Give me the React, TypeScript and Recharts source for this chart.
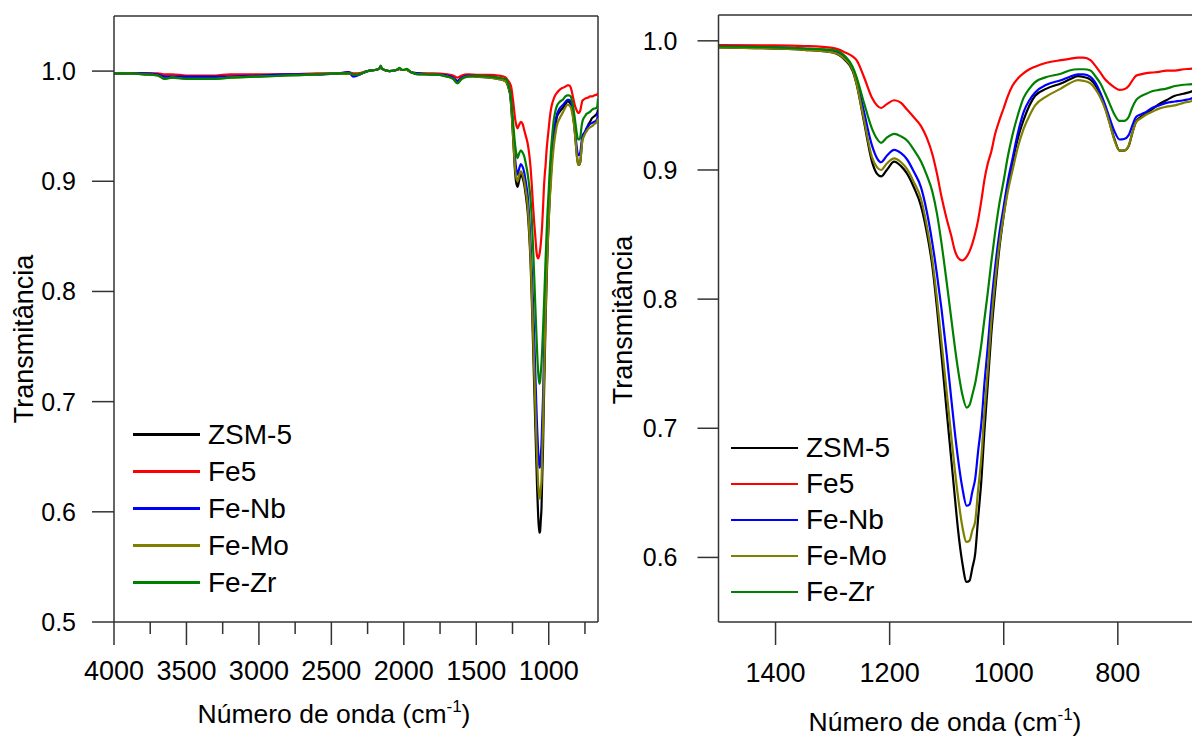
import React from 'react'
import { LineChart, Line, XAxis, YAxis, ReferenceLine, Legend } from 'recharts'

const FONT = '"Liberation Sans", Arial, sans-serif'
const AXIS = '#333'

// wavenumber grid (cm-1)
const wavenumbers = [
  4000, 3900, 3800, 3700, 3650, 3600, 3500, 3400, 3300, 3200,
  3000, 2800, 2600, 2450, 2380, 2350, 2320, 2250, 2200, 2170,
  2160, 2150, 2100, 2050, 2030, 2010, 1980, 1950, 1900, 1800,
  1700, 1660, 1630, 1600, 1560, 1500,
  1400, 1350, 1300, 1278, 1265, 1258, 1245, 1231, 1222, 1215,
  1205, 1192, 1180, 1170, 1158, 1145, 1135, 1125, 1117, 1109,
  1100, 1092, 1086, 1080, 1073, 1065, 1060, 1055, 1050, 1045,
  1039, 1034, 1028, 1022, 1015, 1008, 1000, 993, 985, 975,
  965, 955, 945, 925, 900, 885, 870, 860, 848, 840,
  830, 822, 815, 806, 797, 789, 781, 775, 768, 760,
  750, 740, 728, 715, 700, 685, 670, 665, 660,
]

const zsm5 = [
  .998, .998, .998, .997, .995, .995, .994, .994, .994, .995,
  .996, .997, .997, .998, .998, .997, .997, 1.0, 1.001, 1.002,
  1.004, 1.002, 1.0, 1.001, 1.002, 1.001, 1.001, .999, .998, .997,
  .996, .994, .991, .994, .996, .995,
  .994, .993, .991, .985, .977, .9665, .9375, .9065, .897, .895,
  .900, .9065, .903, .8975, .887, .872, .852, .825, .793, .756,
  .713, .676, .648, .621, .597, .581, .582, .592, .603, .630,
  .661, .697, .734, .772, .807, .838, .865, .886, .905, .925,
  .939, .950, .9575, .963, .967, .970, .9727, .972, .970, .966,
  .9575, .948, .9375, .924, .915, .915, .9185, .928, .9375, .941,
  .944, .947, .951, .954, .9575, .959, .961, .962, .965,
]

const fe5 = [
  .998, .998, .998, .998, .997, .997, .996, .996, .996, .997,
  .997, .997, .998, .998, .999, .998, .998, 1.0, 1.001, 1.002,
  1.004, 1.002, 1.0, 1.001, 1.002, 1.001, 1.001, .999, .998, .998,
  .997, .996, .994, .996, .997, .9967,
  .9965, .996, .9945, .991, .988, .985, .972, .956, .950, .948,
  .951, .954, .952, .947, .941, .934, .925, .912, .897, .879,
  .862, .849, .838, .832, .830, .833, .837, .843, .851, .861,
  .877, .892, .905, .914, .928, .938, .948, .957, .965, .971,
  .975, .978, .980, .983, .985, .986, .987, .987, .985, .981,
  .975, .970, .967, .964, .962, .9625, .965, .969, .973, .974,
  .975, .9755, .976, .977, .977, .978, .9785, .979, .980,
]

const feNb = [
  .998, .998, .998, .997, .995, .995, .995, .995, .995, .995,
  .996, .997, .997, .998, .999, .995, .996, 1.0, 1.001, 1.002,
  1.004, 1.002, 1.0, 1.001, 1.002, 1.001, 1.001, .999, .998, .997,
  .996, .994, .991, .994, .996, .9956,
  .995, .994, .992, .9865, .979, .970, .945, .919, .909, .906,
  .911, .9156, .913, .9085, .899, .8865, .868, .843, .819, .792,
  .757, .723, .698, .676, .655, .640, .641, .651, .661, .682,
  .705, .734, .763, .795, .825, .850, .872, .891, .908, .929,
  .945, .954, .960, .966, .9695, .972, .974, .974, .972, .968,
  .959, .950, .941, .930, .9236, .924, .927, .934, .941, .943,
  .945, .948, .950, .952, .953, .954, .9556, .957, .963,
]

const feMo = [
  .998, .998, .997, .996, .993, .994, .993, .993, .993, .994,
  .995, .996, .997, .998, .998, .997, .997, 1.0, 1.001, 1.002,
  1.004, 1.002, 1.0, 1.001, 1.002, 1.001, 1.001, .999, .997, .997,
  .995, .993, .989, .993, .995, .995,
  .994, .993, .991, .9855, .978, .967, .939, .910, .902, .900,
  .905, .909, .906, .901, .891, .8775, .857, .830, .800, .7665,
  .728, .694, .669, .6465, .625, .612, .613, .621, .628, .652,
  .679, .712, .745, .781, .814, .841, .865, .883, .899, .918,
  .932, .942, .950, .957, .963, .967, .9695, .969, .967, .963,
  .9556, .947, .937, .923, .915, .915, .919, .928, .937, .940,
  .943, .945, .9475, .949, .950, .952, .9535, .955, .957,
]

const feZr = [
  .998, .998, .997, .996, .993, .994, .993, .993, .993, .994,
  .995, .996, .997, .998, .998, .997, .997, 1.0, 1.001, 1.002,
  1.005, 1.002, 1.0, 1.001, 1.003, 1.001, 1.002, .999, .997, .997,
  .995, .993, .989, .993, .995, .9956,
  .995, .994, .993, .988, .980, .972, .952, .932, .924, .921,
  .925, .928, .926, .923, .916, .9065, .896, .883, .866, .843,
  .813, .785, .764, .745, .727, .716, .718, .726, .735, .748,
  .766, .784, .805, .828, .852, .873, .892, .910, .9265, .943,
  .956, .963, .968, .972, .9745, .977, .978, .978, .977, .973,
  .9665, .959, .952, .943, .938, .938, .941, .948, .954, .957,
  .959, .961, .962, .963, .965, .966, .9665, .968, .975,
]

const series = [
  { key: 'zsm5', name: 'ZSM-5', color: '#000000' },
  { key: 'fe5', name: 'Fe5', color: '#ff0000' },
  { key: 'feNb', name: 'Fe-Nb', color: '#0000ff' },
  { key: 'feMo', name: 'Fe-Mo', color: '#808000' },
  { key: 'feZr', name: 'Fe-Zr', color: '#008000' },
]

const leftXTicks = [4000, 3750, 3500, 3250, 3000, 2750, 2500, 2250, 2000, 1750, 1500, 1250, 1000, 750]
const leftXMajor = [4000, 3500, 3000, 2500, 2000, 1500, 1000]
const rightXTicks = [1400, 1200, 1000, 800]
const leftYTicks = [0.5, 0.6, 0.7, 0.8, 0.9, 1.0]
const rightYTicks = [0.6, 0.7, 0.8, 0.9, 1.0]

const rows = wavenumbers.map((w, i) => ({
  w, zsm5: zsm5[i], fe5: fe5[i], feNb: feNb[i], feMo: feMo[i], feZr: feZr[i],
}))
const rightRows = rows.filter(r => r.w <= 1500)

function XTick(props: any) {
  const { x, y, payload, majors, baseline } = props
  const major = majors.includes(payload.value)
  return (
    <g>
      <line x1={x} x2={x} y1={y} y2={y + (major ? 23 : 12)} stroke={AXIS} strokeWidth={1.5} />
      {major && (
        <text x={x} y={y + baseline} textAnchor="middle" fontSize={27} fill="#000">
          {payload.value}
        </text>
      )}
    </g>
  )
}

function XTitle({ tx, ty }: { tx: number; ty: number }) {
  return (
    <text x={tx} y={ty} textAnchor="middle" fontSize={26.5} fill="#000">
      Número de onda (cm<tspan dy={-11} fontSize={17}>-1</tspan><tspan dy={11}>)</tspan>
    </text>
  )
}

function YTitle({ tx, ty }: { tx: number; ty: number }) {
  return (
    <text x={tx} y={ty} transform={`rotate(-90, ${tx}, ${ty})`} textAnchor="middle"
      dominantBaseline="central" fontSize={27} fill="#000">
      Transmitância
    </text>
  )
}

function LegendBox({ rowH, lineH }: { rowH: number; lineH: number }) {
  return (
    <div style={{ fontFamily: FONT, fontSize: 28, color: '#000' }}>
      {series.map(s => (
        <div key={s.key} style={{ display: 'flex', alignItems: 'center', height: rowH }}>
          <span style={{ display: 'inline-block', width: 67, height: lineH, background: s.color, marginRight: 8 }} />
          <span>{s.name}</span>
        </div>
      ))}
    </div>
  )
}

const fmt = (v: number) => v.toFixed(1)

export default function App() {
  return (
    <div style={{ position: 'absolute', left: 0, top: 0, width: 1192, height: 736, background: '#fff', overflow: 'hidden' }}>
      <div style={{ position: 'absolute', left: 0, top: 0 }}>
        <LineChart width={600} height={736} data={rows} style={{ fontFamily: FONT }}
          margin={{ top: 16, right: 2, bottom: 0, left: 0 }}>
          <XAxis dataKey="w" type="number" domain={[660, 4000]} reversed allowDataOverflow
            ticks={leftXTicks} interval={0} tickSize={0} tickMargin={0} height={114}
            axisLine={{ stroke: AXIS, strokeWidth: 1.5 }} tickLine={false}
            tick={<XTick majors={leftXMajor} baseline={58} />}
            label={<XTitle tx={334} ty={723} />} />
          <YAxis type="number" domain={[0.5, 1.05]} ticks={leftYTicks} width={114}
            tickFormatter={fmt} tickSize={22} tickMargin={16} allowDataOverflow
            tick={{ fontSize: 25, fill: '#000' }}
            axisLine={{ stroke: AXIS, strokeWidth: 1.5 }} tickLine={{ stroke: AXIS, strokeWidth: 1.5 }}
            label={<YTitle tx={24} ty={339} />} />
          <ReferenceLine y={1.05} stroke={AXIS} strokeWidth={1.5} />
          <ReferenceLine x={660} stroke={AXIS} strokeWidth={1.5} />
          <Legend layout="vertical" align="center" verticalAlign="middle"
            wrapperStyle={{ left: 133, top: 416, width: 'auto' }}
            content={() => <LegendBox rowH={37} lineH={3} />} />
          {series.map(s => (
            <Line key={s.key} dataKey={s.key} name={s.name} type="monotone" stroke={s.color}
              strokeWidth={2.2} dot={false} isAnimationActive={false} />
          ))}
        </LineChart>
      </div>
      <div style={{ position: 'absolute', left: 600, top: 0 }}>
        <LineChart width={592} height={736} data={rightRows} style={{ fontFamily: FONT }}
          margin={{ top: 15, right: 0, bottom: 0, left: 0 }}>
          <XAxis dataKey="w" type="number" domain={[670, 1500]} reversed allowDataOverflow
            ticks={rightXTicks} interval={0} tickSize={0} tickMargin={0} height={114}
            axisLine={{ stroke: AXIS, strokeWidth: 1.5 }} tickLine={false}
            tick={<XTick majors={rightXTicks} baseline={60} />}
            label={<XTitle tx={345} ty={731} />} />
          <YAxis type="number" domain={[0.55, 1.02]} ticks={rightYTicks} width={118.5}
            tickFormatter={fmt} tickSize={21} tickMargin={20} allowDataOverflow
            tick={{ fontSize: 25, fill: '#000' }}
            axisLine={{ stroke: AXIS, strokeWidth: 1.5 }} tickLine={{ stroke: AXIS, strokeWidth: 1.5 }}
            label={<YTitle tx={23} ty={320} />} />
          <ReferenceLine y={1.02} stroke={AXIS} strokeWidth={1.5} />
          <Legend layout="vertical" align="center" verticalAlign="middle"
            wrapperStyle={{ left: 131, top: 430, width: 'auto' }}
            content={() => <LegendBox rowH={36} lineH={2} />} />
          {series.map(s => (
            <Line key={s.key} dataKey={s.key} name={s.name} type="monotone" stroke={s.color}
              strokeWidth={2.2} dot={false} isAnimationActive={false} />
          ))}
        </LineChart>
      </div>
    </div>
  )
}
